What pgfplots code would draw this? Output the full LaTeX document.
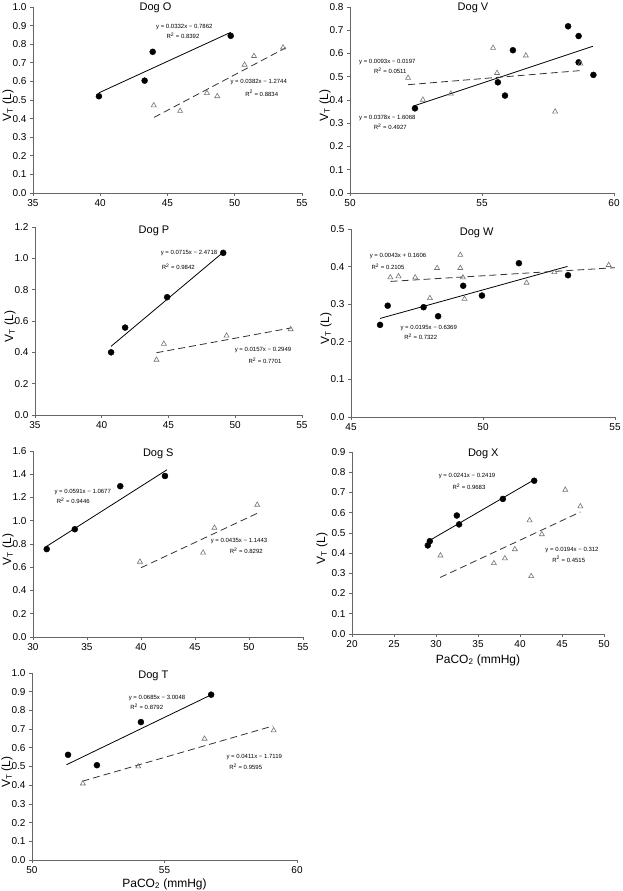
\documentclass[border=0pt]{standalone}
\usepackage{fontspec}
\setmainfont{Liberation Sans}
\usepackage{pgfplots}
\pgfplotsset{compat=1.18}
\pgfplotsset{
  dogax/.style={
    scale only axis, anchor=south west, clip=false,
    axis x line*=bottom, axis y line*=left, tick pos=left,
    axis line style={black!60, line width=0.8pt},
    tick style={black!60, line width=0.7pt},
    tick align=outside, major tick length=3pt,
    /pgf/number format/assume math mode=true,
    ticklabel style={font=\fontsize{10}{12}\selectfont},
    yticklabel style={/pgf/number format/.cd, fixed, fixed zerofill, precision=1},
    xticklabel style={/pgf/number format/.cd, fixed, precision=0},
    ylabel={V\textsubscript{T} (L)},
    ylabel style={at={(axis description cs:0,0.47)}, anchor=center, yshift=25pt},
    label style={font=\fontsize{12}{14}\selectfont},
    ymin=0,
  },
  circ/.style={only marks, mark=*, mark size=3pt, black},
  tri/.style={only marks, mark=triangle, mark size=2.9pt, mark options={black!55, line width=0.6pt}},
  fitc/.style={black, line width=0.8pt},
  fitt/.style={black!80, line width=0.8pt, dash pattern=on 7pt off 4pt},
}
\newcommand{\eqn}[3]{\node[font=\fontsize{6}{7}\selectfont, inner sep=0pt] at (#1pt,{891pt-#2pt}) {#3};}
\newcommand{\ttl}[3]{\node[font=\fontsize{11}{13}\selectfont, inner sep=0pt] at (#1pt,{891pt-#2pt}) {#3};}
\begin{document}
\begin{tikzpicture}
\path[use as bounding box] (0,0) rectangle (623pt,891pt);

% Dog O
\begin{axis}[dogax, at={(33pt,698pt)}, width=269pt, height=186pt,
  xmin=35, xmax=55, ymax=1.0, xtick={35,40,...,55}, ytick={0,0.1,...,1.0}]
\addplot[fitc] coordinates {(39.9,0.5385) (49.7,0.8638)};
\addplot[fitt] coordinates {(44.0,0.4064) (53.8,0.7808)};
\addplot[circ] coordinates {(39.9,0.520) (43.3,0.604) (43.9,0.759) (49.7,0.845)};
\addplot[tri] coordinates {(43.98,0.471) (45.94,0.441) (47.93,0.537) (48.7,0.520) (50.73,0.689) (51.43,0.736) (53.59,0.782)};
\end{axis}

% Dog V
\begin{axis}[dogax, at={(350pt,698pt)}, width=264pt, height=186pt,
  xmin=50, xmax=60, ymax=0.8, xtick={50,55,60}, ytick={0,0.1,...,0.8}]
\addplot[fitc] coordinates {(52.4,0.3739) (59.2,0.631)};
\addplot[fitt] coordinates {(52.2,0.4658) (58.7,0.5262)};
\addplot[circ] coordinates {(52.46,0.364) (55.6,0.476) (55.87,0.419) (56.17,0.614) (58.26,0.717) (58.66,0.675) (58.66,0.562) (59.22,0.508)};
\addplot[tri] coordinates {(52.2,0.495) (52.76,0.401) (53.82,0.427) (55.42,0.624) (55.57,0.516) (56.66,0.591) (57.77,0.350) (58.73,0.556)};
\end{axis}

% Dog P
\begin{axis}[dogax, at={(35pt,476pt)}, width=267pt, height=188pt,
  xmin=35, xmax=55, ymax=1.2, xtick={35,40,...,55}, ytick={0,0.2,...,1.2}]
\addplot[fitc] coordinates {(40.7,0.4383) (49.1,1.0389)};
\addplot[fitt] coordinates {(44.1,0.3975) (54.2,0.556)};
\addplot[circ] coordinates {(40.7,0.400) (41.75,0.558) (44.9,0.752) (49.1,1.035)};
\addplot[tri] coordinates {(44.1,0.352) (44.65,0.454) (49.35,0.506) (54.15,0.547)};
\end{axis}

% Dog W
\begin{axis}[dogax, at={(351pt,474pt)}, width=264pt, height=188pt,
  xmin=45, xmax=55, ymax=0.5, xtick={45,50,55}, ytick={0,0.1,...,0.5}]
\addplot[fitc] coordinates {(46.1,0.2621) (53.2,0.4005)};
\addplot[fitt] coordinates {(46.5,0.3606) (55.0,0.3971)};
\addplot[circ] coordinates {(46.1,0.245) (46.39,0.296) (47.75,0.292) (48.3,0.268) (49.25,0.349) (49.96,0.323) (51.36,0.409) (53.22,0.377)};
\addplot[tri] coordinates {(46.49,0.371) (46.8,0.374) (47.43,0.371) (47.99,0.316) (48.26,0.396) (49.14,0.431) (49.14,0.396) (49.24,0.371) (49.3,0.314) (51.65,0.357) (52.7,0.385) (54.76,0.404)};
\end{axis}

% Dog S
\begin{axis}[dogax, at={(33pt,254pt)}, width=270pt, height=186pt,
  xmin=30, xmax=55, ymax=1.6, xtick={30,35,...,55}, ytick={0,0.2,...,1.6}]
\addplot[fitc] coordinates {(31.2,0.7762) (42.4,1.4381)};
\addplot[fitt] coordinates {(40.0,0.5957) (51.0,1.0742)};
\addplot[circ] coordinates {(31.27,0.756) (33.87,0.927) (38.08,1.297) (42.22,1.385)};
\addplot[tri] coordinates {(39.9,0.647) (45.75,0.725) (46.8,0.939) (50.76,1.137)};
\end{axis}

% Dog X
\begin{axis}[dogax, at={(352pt,257pt)}, width=252pt, height=182pt,
  xmin=20, xmax=50, ymax=0.9, xtick={20,25,...,50}, ytick={0,0.1,...,0.9},
  ylabel style={yshift=5pt},
  xlabel={PaCO\textsubscript{2} (mmHg)}]
\addplot[fitc] coordinates {(29.0,0.457) (41.7,0.7631)};
\addplot[fitt] coordinates {(30.5,0.2797) (47.2,0.6037)};
\addplot[circ] coordinates {(29.02,0.438) (29.26,0.459) (32.48,0.586) (32.75,0.542) (37.96,0.668) (41.69,0.758)};
\addplot[tri] coordinates {(30.53,0.388) (36.89,0.350) (38.2,0.374) (39.39,0.419) (41.14,0.562) (41.33,0.286) (42.6,0.493) (45.39,0.713) (47.18,0.631)};
\end{axis}

% Dog T
\begin{axis}[dogax, at={(32pt,31pt)}, width=265pt, height=187pt,
  xmin=50, xmax=60, ymax=1.0, xtick={50,55,60}, ytick={0,0.1,...,1.0},
  xlabel={PaCO\textsubscript{2} (mmHg)}, xlabel style={yshift=2pt}]
\addplot[fitc] coordinates {(51.3,0.5093) (56.8,0.886)};
\addplot[fitt] coordinates {(51.9,0.4212) (59.1,0.7171)};
\addplot[circ] coordinates {(51.36,0.5625) (52.45,0.507) (54.11,0.7375) (56.76,0.884)};
\addplot[tri] coordinates {(51.92,0.409) (54.01,0.500) (56.51,0.648) (59.12,0.693)};
\end{axis}

% titles
\ttl{155.5}{8}{Dog O}
\ttl{473}{8}{Dog V}
\ttl{154}{231}{Dog P}
\ttl{476.7}{232.5}{Dog W}
\ttl{158.3}{454}{Dog S}
\ttl{483.3}{453.5}{Dog X}
\ttl{153.3}{676}{Dog T}

% equations
\eqn{184.3}{26.7}{y = 0.0332x − 0.7862}
\eqn{183}{35.7}{R\textsuperscript{2} = 0.8392}
\eqn{258.7}{82.3}{y = 0.0382x − 1.2744}
\eqn{261.7}{93.3}{R\textsuperscript{2} = 0.8834}

\eqn{387.3}{62.3}{y = 0.0093x − 0.0197}
\eqn{390.3}{71}{R\textsuperscript{2} = 0.0511}
\eqn{387.3}{118.3}{y = 0.0378x − 1.6068}
\eqn{390.3}{127}{R\textsuperscript{2} = 0.4927}

\eqn{189}{253.3}{y = 0.0715x − 2.4718}
\eqn{178.3}{266.7}{R\textsuperscript{2} = 0.9842}
\eqn{263}{350.3}{y = 0.0157x − 0.2949}
\eqn{265}{360.7}{R\textsuperscript{2} = 0.7701}

\eqn{398}{256.3}{y = 0.0043x + 0.1606}
\eqn{388}{266.7}{R\textsuperscript{2} = 0.2105}
\eqn{428.7}{327.7}{y = 0.0195x − 0.6369}
\eqn{420.7}{337}{R\textsuperscript{2} = 0.7322}

\eqn{82.7}{491.7}{y = 0.0591x − 1.0677}
\eqn{73.3}{500.7}{R\textsuperscript{2} = 0.9446}
\eqn{239}{540.7}{y = 0.0435x − 1.1443}
\eqn{246.3}{550.7}{R\textsuperscript{2} = 0.8292}

\eqn{467}{476}{y = 0.0241x − 0.2419}
\eqn{469}{486.7}{R\textsuperscript{2} = 0.9683}
\eqn{572}{550}{y = 0.0194x − 0.312}
\eqn{568.7}{559.3}{R\textsuperscript{2} = 0.4515}

\eqn{157}{697.7}{y = 0.0685x − 3.0048}
\eqn{146.7}{706.7}{R\textsuperscript{2} = 0.8792}
\eqn{254.3}{756.7}{y = 0.0411x − 1.7119}
\eqn{245.7}{766.7}{R\textsuperscript{2} = 0.9595}
\end{tikzpicture}
\end{document}
